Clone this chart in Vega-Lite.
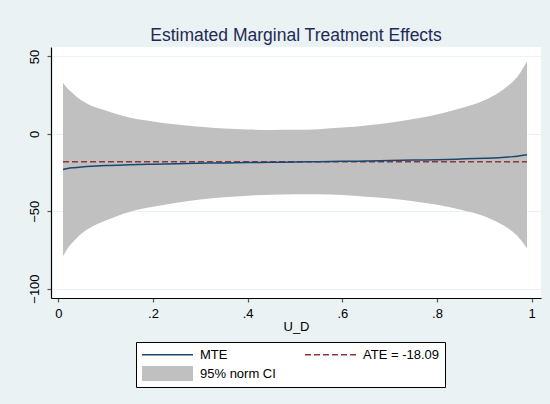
{
  "$schema": "https://vega.github.io/schema/vega-lite/v6.json",
  "width": 490,
  "height": 251,
  "autosize": "none",
  "padding": {"left": 51, "top": 47, "right": 9, "bottom": 106},
  "background": "#eaf2f3",
  "title": {
    "text": "Estimated Marginal Treatment Effects",
    "font": "Liberation Sans",
    "fontSize": 17.5,
    "fontWeight": "normal",
    "color": "#1e2a55",
    "anchor": "middle",
    "baseline": "alphabetic",
    "offset": -11
  },
  "config": {
    "view": {"fill": "white", "stroke": null},
    "font": "Liberation Sans",
    "axis": {
      "labelFont": "Liberation Sans",
      "labelFontSize": 13,
      "labelColor": "black",
      "titleFont": "Liberation Sans",
      "titleFontSize": 13,
      "titleFontWeight": "normal",
      "titleColor": "black",
      "domainColor": "black",
      "domainWidth": 1.2,
      "tickColor": "#555555",
      "tickSize": 4,
      "tickWidth": 1.2,
      "gridColor": "#eaf2f3",
      "gridWidth": 1
    }
  },
  "datasets": {
    "mte": [
      {"u": 0.01, "mte": -23.0, "lo": -79.0, "hi": 33.0},
      {"u": 0.02, "mte": -22.4, "lo": -73.9, "hi": 29.1},
      {"u": 0.03, "mte": -22.0, "lo": -70.3, "hi": 26.3},
      {"u": 0.04, "mte": -21.7, "lo": -67.0, "hi": 23.6},
      {"u": 0.06, "mte": -21.2, "lo": -62.0, "hi": 19.6},
      {"u": 0.08, "mte": -20.8, "lo": -58.6, "hi": 17.0},
      {"u": 0.10, "mte": -20.5, "lo": -56.0, "hi": 15.0},
      {"u": 0.15, "mte": -20.0, "lo": -50.5, "hi": 10.5},
      {"u": 0.20, "mte": -19.6, "lo": -47.2, "hi": 8.0},
      {"u": 0.25, "mte": -19.3, "lo": -44.6, "hi": 6.0},
      {"u": 0.30, "mte": -19.0, "lo": -42.5, "hi": 4.5},
      {"u": 0.35, "mte": -18.8, "lo": -41.0, "hi": 3.4},
      {"u": 0.40, "mte": -18.6, "lo": -40.0, "hi": 2.8},
      {"u": 0.45, "mte": -18.4, "lo": -39.3, "hi": 2.5},
      {"u": 0.50, "mte": -18.2, "lo": -39.0, "hi": 2.6},
      {"u": 0.55, "mte": -18.0, "lo": -39.0, "hi": 3.0},
      {"u": 0.60, "mte": -17.8, "lo": -39.6, "hi": 4.0},
      {"u": 0.65, "mte": -17.6, "lo": -40.6, "hi": 5.4},
      {"u": 0.70, "mte": -17.3, "lo": -41.8, "hi": 7.2},
      {"u": 0.75, "mte": -17.0, "lo": -43.6, "hi": 9.6},
      {"u": 0.80, "mte": -16.7, "lo": -45.9, "hi": 12.5},
      {"u": 0.85, "mte": -16.3, "lo": -49.1, "hi": 16.5},
      {"u": 0.90, "mte": -15.8, "lo": -53.3, "hi": 21.7},
      {"u": 0.93, "mte": -15.4, "lo": -57.4, "hi": 26.6},
      {"u": 0.95, "mte": -15.0, "lo": -61.0, "hi": 31.0},
      {"u": 0.97, "mte": -14.5, "lo": -66.0, "hi": 37.0},
      {"u": 0.99, "mte": -13.6, "lo": -74.1, "hi": 46.9}
    ],
    "ate": [
      {"u0": 0.01, "u1": 0.99, "ate": -18.09}
    ]
  },
  "layer": [
    {
      "data": {"name": "mte"},
      "mark": {"type": "area", "color": "#c0c0c0", "opacity": 1, "interpolate": "monotone"},
      "encoding": {
        "x": {
          "field": "u", "type": "quantitative",
          "scale": {"domain": [-0.0154, 1.0196], "nice": false, "zero": false},
          "axis": {
            "title": "U_D",
            "values": [0, 0.2, 0.4, 0.6, 0.8, 1],
            "labelExpr": "replace(toString(datum.value), '0.', '.')",
            "grid": false,
            "labelPadding": 5,
            "titlePadding": 0
          }
        },
        "y": {
          "field": "lo", "type": "quantitative",
          "scale": {"domain": [-106.1, 56.1], "nice": false, "zero": false},
          "axis": {
            "title": null,
            "values": [-100, -50, 0, 50],
            "format": "d",
            "labelAngle": -90,
            "labelAlign": "center",
            "labelBaseline": "bottom",
            "labelPadding": 6,
            "grid": true
          }
        },
        "y2": {"field": "hi"},
        "color": {
          "datum": "95% norm CI",
          "scale": {
            "domain": ["MTE", "ATE = -18.09", "95% norm CI"],
            "range": ["#1a476f", "#90353b", "#c0c0c0"]
          },
          "legend": {
            "title": null,
            "orient": "none",
            "legendX": 85,
            "legendY": 295,
            "direction": "horizontal",
            "columns": 2,
            "columnPadding": 26,
            "rowPadding": 4,
            "padding": 6,
            "strokeColor": "black",
            "fillColor": "white",
            "labelFont": "Liberation Sans",
            "labelFontSize": 13,
            "labelColor": "black",
            "labelOffset": 45,
            "symbolSize": 225,
            "encode": {
              "symbols": {
                "update": {
                  "shape": {"signal": "datum.value === '95% norm CI' ? 'M-3.4,-1H3.4V1H-3.4Z' : 'M-3.4,0H3.4'"},
                  "x": {"value": 25.5},
                  "fill": {"signal": "datum.value === '95% norm CI' ? '#c0c0c0' : 'transparent'"},
                  "stroke": {"signal": "datum.value === '95% norm CI' ? 'transparent' : (datum.value === 'MTE' ? '#1a476f' : '#90353b')"},
                  "strokeDash": {"signal": "datum.value === 'ATE = -18.09' ? [6, 3] : [1, 0]"},
                  "strokeWidth": {"signal": "datum.value === '95% norm CI' ? 0 : 1.5"},
                  "opacity": {"value": 1}
                }
              }
            }
          }
        }
      }
    },
    {
      "data": {"name": "ate"},
      "mark": {"type": "rule", "strokeDash": [6, 3], "strokeWidth": 1.5},
      "encoding": {
        "x": {"field": "u0", "type": "quantitative"},
        "x2": {"field": "u1"},
        "y": {"field": "ate", "type": "quantitative"},
        "color": {
          "datum": "ATE = -18.09",
          "legend": {
            "encode": {
              "symbols": {
                "update": {
                  "shape": {"signal": "datum.value === '95% norm CI' ? 'M-3.4,-1H3.4V1H-3.4Z' : 'M-3.4,0H3.4'"},
                  "x": {"value": 25.5},
                  "fill": {"signal": "datum.value === '95% norm CI' ? '#c0c0c0' : 'transparent'"},
                  "stroke": {"signal": "datum.value === '95% norm CI' ? 'transparent' : (datum.value === 'MTE' ? '#1a476f' : '#90353b')"},
                  "strokeDash": {"signal": "datum.value === 'ATE = -18.09' ? [6, 3] : [1, 0]"},
                  "strokeWidth": {"signal": "datum.value === '95% norm CI' ? 0 : 1.5"},
                  "opacity": {"value": 1}
                }
              }
            }
          }
        }
      }
    },
    {
      "data": {"name": "mte"},
      "mark": {"type": "line", "strokeWidth": 1.5, "interpolate": "monotone"},
      "encoding": {
        "x": {"field": "u", "type": "quantitative"},
        "y": {"field": "mte", "type": "quantitative"},
        "color": {
          "datum": "MTE",
          "legend": {
            "encode": {
              "symbols": {
                "update": {
                  "shape": {"signal": "datum.value === '95% norm CI' ? 'M-3.4,-1H3.4V1H-3.4Z' : 'M-3.4,0H3.4'"},
                  "x": {"value": 25.5},
                  "fill": {"signal": "datum.value === '95% norm CI' ? '#c0c0c0' : 'transparent'"},
                  "stroke": {"signal": "datum.value === '95% norm CI' ? 'transparent' : (datum.value === 'MTE' ? '#1a476f' : '#90353b')"},
                  "strokeDash": {"signal": "datum.value === 'ATE = -18.09' ? [6, 3] : [1, 0]"},
                  "strokeWidth": {"signal": "datum.value === '95% norm CI' ? 0 : 1.5"},
                  "opacity": {"value": 1}
                }
              }
            }
          }
        }
      }
    }
  ]
}
